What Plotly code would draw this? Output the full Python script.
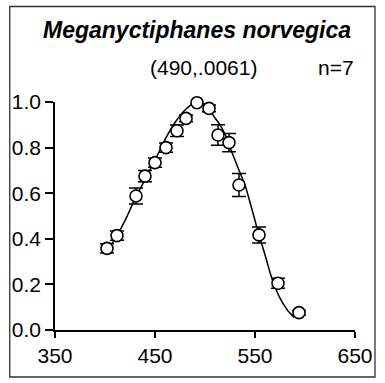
import plotly.graph_objects as go

# Measured data points (wavelength nm, relative sensitivity, error)
wavelength = [402, 412, 431, 440, 450, 461, 472, 481, 492, 504, 513, 524, 534, 554, 573, 594]
sensitivity = [0.358, 0.414, 0.588, 0.675, 0.734, 0.80, 0.874, 0.928, 0.997, 0.972, 0.855, 0.822, 0.636, 0.417, 0.205, 0.076]
error = [0.02, 0.02, 0.035, 0.025, 0.02, 0.02, 0.025, 0.015, 0.01, 0.015, 0.045, 0.04, 0.05, 0.035, 0.022, 0.01]

# Fitted template curve
curve_wl = [402, 410, 420, 430, 440, 450, 460, 470, 480, 490, 495, 500, 505, 510, 515, 521, 525, 530, 535, 540, 545, 550, 554, 560, 567, 575, 582, 589]
curve_val = [0.35, 0.40, 0.48, 0.575, 0.66, 0.745, 0.835, 0.91, 0.965, 0.997, 1.0, 0.99, 0.965, 0.93, 0.90, 0.85, 0.80, 0.745, 0.69, 0.636, 0.56, 0.48, 0.417, 0.33, 0.225, 0.14, 0.09, 0.055]

x_ticks = [350, 450, 550, 650]
y_ticks = [0.0, 0.2, 0.4, 0.6, 0.8, 1.0]
y_tick_text = ["0.0", "0.2", "0.4", "0.6", "0.8", "1.0"]

title_text = "<b><i>Meganyctiphanes norvegica</i></b>"
fit_text = "(490,.0061)"
n_text = "n=7"

FONT = "Liberation Sans, Arial, Helvetica, sans-serif"

fig = go.Figure()
fig.add_trace(go.Scatter(
    x=curve_wl, y=curve_val, mode="lines",
    line=dict(color="black", width=1.5, shape="spline", smoothing=0.8),
    hoverinfo="skip", showlegend=False, cliponaxis=False,
))
fig.add_trace(go.Scatter(
    x=wavelength, y=sensitivity, mode="markers",
    marker=dict(symbol="circle", size=12, color="white", line=dict(color="black", width=1.6)),
    error_y=dict(type="data", array=error, visible=True, color="black", thickness=1.5, width=7),
    showlegend=False, cliponaxis=False,
))

W, H = 385, 383
L, R, T, B = 52, 18, 102, 53
pw, ph = W - L - R, H - T - B

def px(xpix):
    return (xpix - L) / pw

def py(ypix):
    return (H - B - ypix) / ph

fig.update_layout(
    width=W, height=H, autosize=False,
    margin=dict(l=L, r=R, t=T, b=B, pad=0),
    paper_bgcolor="white", plot_bgcolor="white",
    font=dict(family=FONT, size=19, color="black"),
    xaxis=dict(
        range=[350, 650], tickvals=x_ticks, ticktext=[str(v) for v in x_ticks],
        showgrid=False, zeroline=False, showline=True, linecolor="black", linewidth=1.5,
        ticks="outside", ticklen=6, tickwidth=1.5, tickcolor="black",
        tickfont=dict(family=FONT, size=21, color="black"),
    ),
    yaxis=dict(
        range=[0, 1.0], tickvals=y_ticks, ticktext=y_tick_text,
        showgrid=False, zeroline=False, showline=True, linecolor="black", linewidth=1.5,
        ticks="outside", ticklen=8, tickwidth=1.5, tickcolor="black",
        tickfont=dict(family=FONT, size=21, color="black"),
    ),
    annotations=[
        dict(text=title_text, xref="paper", yref="paper", x=px(201), y=py(30),
             xanchor="center", yanchor="middle", showarrow=False,
             font=dict(family=FONT, size=23, color="black")),
        dict(text=fit_text, xref="paper", yref="paper", x=px(207.5), y=py(67),
             xanchor="center", yanchor="middle", showarrow=False,
             font=dict(family=FONT, size=21, color="black")),
        dict(text=n_text, xref="paper", yref="paper", x=px(368), y=py(67),
             xanchor="right", yanchor="middle", showarrow=False,
             font=dict(family=FONT, size=21, color="black")),
    ],
    shapes=[
        dict(type="rect", xref="paper", yref="paper",
             x0=px(4.5), x1=px(388), y0=py(377), y1=py(6.5),
             line=dict(color="#333333", width=1.3), fillcolor="rgba(0,0,0,0)", layer="below"),
    ],
)

fig.write_html("out.html")
